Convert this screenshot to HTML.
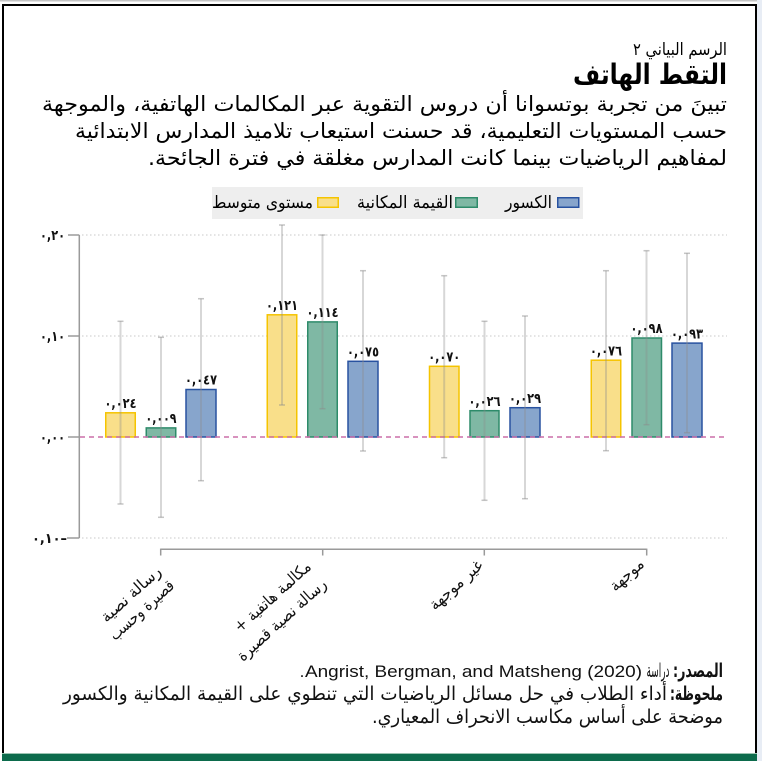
<!DOCTYPE html>
<html>
<head>
<meta charset="utf-8">
<style>
html,body{margin:0;padding:0;background:#fff;}
svg{display:block;}
text{font-family:"Liberation Sans","DejaVu Sans",sans-serif;}
.ar{font-family:"DejaVu Sans","Liberation Sans",sans-serif;}
</style>
</head>
<body>
<svg width="762" height="763" viewBox="0 0 762 763" xmlns="http://www.w3.org/2000/svg">
  <rect x="0" y="0" width="762" height="763" fill="#ffffff"/>
  <rect x="757" y="0" width="5" height="763" fill="#e8edf5"/>
  <rect x="0" y="0" width="757" height="1.5" fill="#c4c4c4"/>
  <rect x="3" y="5" width="753" height="752" fill="#ffffff" stroke="#000" stroke-width="2"/>
  <rect x="2" y="753" width="755" height="1" fill="#9cc4b2"/>
  <rect x="2" y="754" width="755" height="7" fill="#0c6b4c"/>
  <rect x="0" y="761" width="762" height="2" fill="#ffffff"/>

  <text class="ar" x="680" y="55" font-size="17" text-anchor="middle" direction="rtl" textLength="94" lengthAdjust="spacingAndGlyphs">الرسم البياني ٢</text>
  <text class="ar" x="650" y="84" font-size="28" font-weight="bold" text-anchor="middle" direction="rtl" textLength="154" lengthAdjust="spacingAndGlyphs">التقط الهاتف</text>
  <text class="ar" x="384.5" y="111" font-size="21" text-anchor="middle" direction="rtl" textLength="685" lengthAdjust="spacingAndGlyphs">تبينَ من تجربة بوتسوانا أن دروس التقوية عبر المكالمات الهاتفية، والموجهة</text>
  <text class="ar" x="401" y="138" font-size="21" text-anchor="middle" direction="rtl" textLength="652" lengthAdjust="spacingAndGlyphs">حسب المستويات التعليمية، قد حسنت استيعاب تلاميذ المدارس الابتدائية</text>
  <text class="ar" x="437.5" y="165" font-size="21" text-anchor="middle" direction="rtl" textLength="579" lengthAdjust="spacingAndGlyphs">لمفاهيم الرياضيات بينما كانت المدارس مغلقة في فترة الجائحة.</text>

  <rect x="212" y="187" width="371" height="32" fill="#eeeeee"/>
  <rect x="557.75" y="197.75" width="21" height="9.5" fill="#87a5cc" stroke="#2852a0" stroke-width="1.5"/>
  <text class="ar" x="528.5" y="208" font-size="17" text-anchor="middle" direction="rtl" textLength="47" lengthAdjust="spacingAndGlyphs">الكسور</text>
  <rect x="455.75" y="197.75" width="21.5" height="9.5" fill="#7fb8a4" stroke="#2e8b6a" stroke-width="1.5"/>
  <text class="ar" x="405" y="208" font-size="17" text-anchor="middle" direction="rtl" textLength="96" lengthAdjust="spacingAndGlyphs">القيمة المكانية</text>
  <rect x="317.75" y="197.75" width="20.5" height="9.5" fill="#f9df8a" stroke="#f5c400" stroke-width="1.5"/>
  <text class="ar" x="262.5" y="208" font-size="17" text-anchor="middle" direction="rtl" textLength="101" lengthAdjust="spacingAndGlyphs">مستوى متوسط</text>

  <g stroke="#c8c8c8" stroke-width="1" stroke-dasharray="1.5 2.5">
    <line x1="82" y1="235" x2="727" y2="235"/>
    <line x1="82" y1="336" x2="727" y2="336"/>
    <line x1="82" y1="538" x2="727" y2="538"/>
  </g>

  <g stroke="#9a9a9a" stroke-width="1.5" fill="none">
    <line x1="79.3" y1="235" x2="79.3" y2="538"/>
    <line x1="68" y1="235" x2="79.3" y2="235"/>
    <line x1="68" y1="336" x2="79.3" y2="336"/>
    <line x1="68" y1="437" x2="79.3" y2="437"/>
    <line x1="67" y1="538" x2="79.3" y2="538"/>
  </g>
  <g font-size="14" font-weight="bold" fill="#111">
    <text class="ar" x="52.5" y="240" text-anchor="middle" textLength="25" lengthAdjust="spacingAndGlyphs">٠,٢٠</text>
    <text class="ar" x="52.5" y="341" text-anchor="middle" textLength="25" lengthAdjust="spacingAndGlyphs">٠,١٠</text>
    <text class="ar" x="52.5" y="442" text-anchor="middle" textLength="25" lengthAdjust="spacingAndGlyphs">٠,٠٠</text>
    <text class="ar" x="49.5" y="543" text-anchor="middle" textLength="35" lengthAdjust="spacingAndGlyphs">٠,١٠–</text>
  </g>

  <g stroke-width="1.5">
    <rect x="105.75" y="412.8" width="29.5" height="24.2" fill="#f9df8a" stroke="#f5c400"/>
    <rect x="146.25" y="427.9" width="29.5" height="9.1" fill="#7fb8a4" stroke="#2e8b6a"/>
    <rect x="186" y="389.5" width="30" height="47.5" fill="#87a5cc" stroke="#2852a0"/>
    <rect x="267.25" y="314.8" width="29.5" height="122.2" fill="#f9df8a" stroke="#f5c400"/>
    <rect x="307.75" y="321.9" width="29.5" height="115.1" fill="#7fb8a4" stroke="#2e8b6a"/>
    <rect x="348" y="361.3" width="30" height="75.7" fill="#87a5cc" stroke="#2852a0"/>
    <rect x="429.5" y="366.3" width="29.5" height="70.7" fill="#f9df8a" stroke="#f5c400"/>
    <rect x="470" y="410.7" width="29" height="26.3" fill="#7fb8a4" stroke="#2e8b6a"/>
    <rect x="510" y="407.7" width="30" height="29.3" fill="#87a5cc" stroke="#2852a0"/>
    <rect x="591.25" y="360.2" width="29.5" height="76.8" fill="#f9df8a" stroke="#f5c400"/>
    <rect x="632" y="338" width="29.5" height="99" fill="#7fb8a4" stroke="#2e8b6a"/>
    <rect x="672" y="343.1" width="30" height="93.9" fill="#87a5cc" stroke="#2852a0"/>
  </g>

  <line x1="80" y1="437" x2="727" y2="437" stroke="#cc6fa8" stroke-width="1.5" stroke-dasharray="5 4"/>

  <g stroke="rgba(140,140,140,0.35)" stroke-width="2">
    <line x1="120.5" y1="321.3" x2="120.5" y2="504"/>
    <line x1="161" y1="337.3" x2="161" y2="517.3"/>
    <line x1="201" y1="298.7" x2="201" y2="480.7"/>
    <line x1="282" y1="225" x2="282" y2="405"/>
    <line x1="322.5" y1="235" x2="322.5" y2="408.7"/>
    <line x1="363" y1="270.7" x2="363" y2="451"/>
    <line x1="444.2" y1="275.7" x2="444.2" y2="457.7"/>
    <line x1="484.5" y1="321.3" x2="484.5" y2="500.3"/>
    <line x1="525" y1="316" x2="525" y2="498.7"/>
    <line x1="606" y1="270.7" x2="606" y2="450.7"/>
    <line x1="646.5" y1="250.7" x2="646.5" y2="424.7"/>
    <line x1="687" y1="253.3" x2="687" y2="432.7"/>
  </g>
  <g stroke="rgba(140,140,140,0.5)" stroke-width="1.5">
    <line x1="117.5" y1="321.3" x2="123.5" y2="321.3"/><line x1="117.5" y1="504" x2="123.5" y2="504"/>
    <line x1="158" y1="337.3" x2="164" y2="337.3"/><line x1="158" y1="517.3" x2="164" y2="517.3"/>
    <line x1="198" y1="298.7" x2="204" y2="298.7"/><line x1="198" y1="480.7" x2="204" y2="480.7"/>
    <line x1="279" y1="225" x2="285" y2="225"/><line x1="279" y1="405" x2="285" y2="405"/>
    <line x1="319.5" y1="235" x2="325.5" y2="235"/><line x1="319.5" y1="408.7" x2="325.5" y2="408.7"/>
    <line x1="360" y1="270.7" x2="366" y2="270.7"/><line x1="360" y1="451" x2="366" y2="451"/>
    <line x1="441.2" y1="275.7" x2="447.2" y2="275.7"/><line x1="441.2" y1="457.7" x2="447.2" y2="457.7"/>
    <line x1="481.5" y1="321.3" x2="487.5" y2="321.3"/><line x1="481.5" y1="500.3" x2="487.5" y2="500.3"/>
    <line x1="522" y1="316" x2="528" y2="316"/><line x1="522" y1="498.7" x2="528" y2="498.7"/>
    <line x1="603" y1="270.7" x2="609" y2="270.7"/><line x1="603" y1="450.7" x2="609" y2="450.7"/>
    <line x1="643.5" y1="250.7" x2="649.5" y2="250.7"/><line x1="643.5" y1="424.7" x2="649.5" y2="424.7"/>
    <line x1="684" y1="253.3" x2="690" y2="253.3"/><line x1="684" y1="432.7" x2="690" y2="432.7"/>
  </g>

  <g font-size="14" font-weight="bold" fill="#111" text-anchor="middle">
    <text class="ar" x="120.5" y="408" textLength="32" lengthAdjust="spacingAndGlyphs">٠,٠٢٤</text>
    <text class="ar" x="161" y="423" textLength="31" lengthAdjust="spacingAndGlyphs">٠,٠٠٩</text>
    <text class="ar" x="201" y="384.7" textLength="32" lengthAdjust="spacingAndGlyphs">٠,٠٤٧</text>
    <text class="ar" x="282" y="310" textLength="32" lengthAdjust="spacingAndGlyphs">٠,١٢١</text>
    <text class="ar" x="322.5" y="317" textLength="32" lengthAdjust="spacingAndGlyphs">٠,١١٤</text>
    <text class="ar" x="363" y="356.5" textLength="32" lengthAdjust="spacingAndGlyphs">٠,٠٧٥</text>
    <text class="ar" x="444.2" y="361.5" textLength="32" lengthAdjust="spacingAndGlyphs">٠,٠٧٠</text>
    <text class="ar" x="484.5" y="405.9" textLength="32" lengthAdjust="spacingAndGlyphs">٠,٠٢٦</text>
    <text class="ar" x="525" y="402.9" textLength="32" lengthAdjust="spacingAndGlyphs">٠,٠٢٩</text>
    <text class="ar" x="606" y="355.4" textLength="32" lengthAdjust="spacingAndGlyphs">٠,٠٧٦</text>
    <text class="ar" x="646.5" y="333.2" textLength="32" lengthAdjust="spacingAndGlyphs">٠,٠٩٨</text>
    <text class="ar" x="687" y="338.3" textLength="32" lengthAdjust="spacingAndGlyphs">٠,٠٩٣</text>
  </g>

  <g stroke="#9a9a9a" stroke-width="1.5" fill="none">
    <line x1="160.7" y1="549.3" x2="646.7" y2="549.3"/>
    <line x1="160.7" y1="548.6" x2="160.7" y2="555.5"/>
    <line x1="322.7" y1="548.6" x2="322.7" y2="555.5"/>
    <line x1="484.3" y1="548.6" x2="484.3" y2="555.5"/>
    <line x1="646.7" y1="548.6" x2="646.7" y2="555.5"/>
  </g>

  <g font-size="16" fill="#111" text-anchor="middle">
    <text class="ar" direction="rtl" transform="translate(134.4,598) rotate(-42)" textLength="75" lengthAdjust="spacingAndGlyphs">رسالة نصية</text>
    <text class="ar" direction="rtl" transform="translate(145.2,614) rotate(-42)" textLength="81" lengthAdjust="spacingAndGlyphs">قصيرة وحسب</text>
    <text class="ar" direction="rtl" transform="translate(276,600.5) rotate(-42)" textLength="97" lengthAdjust="spacingAndGlyphs">مكالمة هاتفية +</text>
    <text class="ar" direction="rtl" transform="translate(285.2,623.8) rotate(-42)" textLength="114" lengthAdjust="spacingAndGlyphs">رسالة نصية قصيرة</text>
    <text class="ar" direction="rtl" transform="translate(459.4,588.8) rotate(-42)" textLength="66" lengthAdjust="spacingAndGlyphs">غير موجهة</text>
    <text class="ar" direction="rtl" transform="translate(630.2,578.8) rotate(-42)" textLength="40" lengthAdjust="spacingAndGlyphs">موجهة</text>
  </g>

  <g font-size="19" fill="#111">
    <text class="ar" x="698" y="677" text-anchor="middle" direction="rtl" font-weight="bold" textLength="50" lengthAdjust="spacingAndGlyphs">المصدر:</text>
    <text class="ar" x="658" y="677" text-anchor="middle" direction="rtl" textLength="23" lengthAdjust="spacingAndGlyphs">دراسة</text>
    <text x="473.5" y="677" font-size="17" text-anchor="middle" textLength="337" lengthAdjust="spacingAndGlyphs">Angrist, Bergman, and Matsheng (2020)</text>
    <text x="302" y="677" font-size="17" text-anchor="middle">.</text>
    <text class="ar" x="696.5" y="700" text-anchor="middle" direction="rtl" font-weight="bold" textLength="53" lengthAdjust="spacingAndGlyphs">ملحوظة:</text>
    <text class="ar" x="365" y="700" text-anchor="middle" direction="rtl" textLength="604" lengthAdjust="spacingAndGlyphs">أداء الطلاب في حل مسائل الرياضيات التي تنطوي على القيمة المكانية والكسور</text>
    <text class="ar" x="547.5" y="723" text-anchor="middle" direction="rtl" textLength="351" lengthAdjust="spacingAndGlyphs">موضحة على أساس مكاسب الانحراف المعياري.</text>
  </g>
</svg>
</body>
</html>
